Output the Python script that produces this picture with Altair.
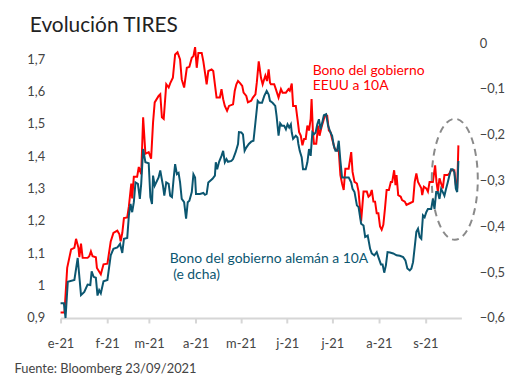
import altair as alt
import pandas as pd

# ---- data (day offset from 2021-01-01, yield %) ----
us_days = [0, 2.6, 4.4, 7.0, 9.2, 10.3, 11.9, 12.5, 13.6, 14.7, 18.0, 19.1, 20.2, 21.3, 23.5, 24.2, 26.8, 28.6,
           31.2, 33.4, 35.2, 37.8, 39.2, 40.0, 41.1, 42.2, 44.4, 45.5, 47.1, 47.7, 48.8, 51.0, 52.1, 53.7, 55.0,
           56.5, 58.7, 60.3, 61.6, 62.7, 65.3, 66.4, 67.5, 68.7, 70.4, 72.0, 73.0, 74.8, 76.3, 77.9, 79.6, 80.7,
           82.3, 84.1, 85.8, 87.4, 88.5, 89.6, 90.7, 91.8, 94.0, 95.1, 96.2, 97.3, 98.4, 100.6, 101.7, 102.8,
           103.9, 106.1, 107.2, 108.3, 109.4, 110.9, 112.2, 114.9, 116.0, 117.1, 118.2, 119.7, 121.0, 121.9,
           123.7, 124.8, 127.0, 128.1, 129.8, 130.7, 132.0, 133.5, 134.6, 136.4, 137.5, 138.6, 139.5, 140.1,
           142.3, 143.4, 145.2, 146.8, 147.9, 150.1, 151.8, 152.7, 154.0, 154.9, 156.7, 157.8, 158.9, 160.0,
           161.1, 162.2, 163.3, 164.4, 165.5, 166.6, 167.2, 168.1, 168.8, 170.3, 171.6, 172.5, 173.8, 175.4,
           176.5, 177.6, 178.7, 179.8, 180.9, 182.6, 184.2, 185.3, 186.4, 187.5, 188.6, 189.7, 191.9, 193.6,
           194.5, 195.8, 197.4, 198.5, 200.2, 201.8, 204.0, 205.1, 206.2, 207.3, 208.4, 209.5, 210.6, 211.7,
           212.8, 213.9, 215.0, 216.1, 217.2, 218.7, 220.0, 220.9, 222.2, 223.1, 223.8, 224.9, 226.6, 227.5,
           229.3, 230.4, 232.6, 234.8, 235.9, 237.0, 238.1, 239.2, 240.3, 240.9, 242.0, 243.6, 244.7, 245.8,
           248.0, 249.5, 250.4, 251.3, 252.4, 253.5, 254.6, 255.7, 257.9, 259.0, 260.1, 262.3, 263.3, 264.2, 265.0]
us_vals = [0.917, 0.917, 1.055, 1.112, 1.117, 1.145, 1.117, 1.088, 1.130, 1.086, 1.086, 1.091, 1.106, 1.091, 1.088,
           1.055, 1.035, 1.066, 1.068, 1.137, 1.163, 1.170, 1.159, 1.137, 1.163, 1.209, 1.211, 1.245, 1.316, 1.270,
           1.337, 1.337, 1.367, 1.345, 1.521, 1.408, 1.413, 1.393, 1.505, 1.567, 1.587, 1.592, 1.521, 1.516, 1.623,
           1.613, 1.626, 1.643, 1.715, 1.722, 1.700, 1.638, 1.613, 1.674, 1.677, 1.705, 1.710, 1.738, 1.674, 1.720,
           1.720, 1.694, 1.659, 1.623, 1.664, 1.669, 1.664, 1.623, 1.582, 1.582, 1.608, 1.577, 1.556, 1.541, 1.556,
           1.561, 1.602, 1.623, 1.633, 1.626, 1.618, 1.597, 1.587, 1.567, 1.572, 1.582, 1.592, 1.628, 1.694, 1.643,
           1.623, 1.650, 1.633, 1.669, 1.628, 1.623, 1.623, 1.608, 1.582, 1.608, 1.597, 1.597, 1.608, 1.603, 1.625,
           1.556, 1.556, 1.516, 1.475, 1.464, 1.434, 1.454, 1.454, 1.495, 1.480, 1.516, 1.577, 1.475, 1.439, 1.439,
           1.495, 1.464, 1.490, 1.516, 1.528, 1.526, 1.480, 1.475, 1.454, 1.424, 1.418, 1.418, 1.342, 1.316, 1.296,
           1.362, 1.362, 1.413, 1.352, 1.321, 1.316, 1.291, 1.199, 1.291, 1.291, 1.275, 1.280, 1.296, 1.260, 1.260,
           1.224, 1.224, 1.183, 1.173, 1.188, 1.239, 1.296, 1.296, 1.321, 1.321, 1.357, 1.311, 1.342, 1.280, 1.275,
           1.265, 1.260, 1.250, 1.255, 1.260, 1.321, 1.347, 1.321, 1.311, 1.301, 1.280, 1.306, 1.301, 1.291, 1.321,
           1.321, 1.372, 1.321, 1.291, 1.332, 1.316, 1.301, 1.342, 1.342, 1.347, 1.357, 1.357, 1.311, 1.301, 1.434]

de_days = [0, 2.2, 3.3, 4.8, 9.2, 11.4, 13.6, 15.8, 18.0, 19.8, 20.7, 22.0, 23.5, 24.6, 25.7, 26.8, 28.6, 31.2,
           33.4, 35.2, 37.8, 39.6, 41.1, 42.2, 44.4, 45.5, 46.6, 47.7, 48.8, 49.9, 51.5, 52.8, 53.7, 55.0, 56.5,
           58.7, 59.8, 60.9, 61.6, 62.7, 65.3, 66.4, 68.2, 69.1, 70.4, 72.0, 73.0, 74.2, 75.3, 76.3, 77.5, 78.6,
           79.6, 80.7, 82.3, 83.6, 84.7, 85.8, 87.4, 88.5, 89.6, 90.2, 92.8, 95.1, 96.2, 97.3, 98.4, 101.2, 102.8,
           103.4, 104.3, 105.6, 107.2, 108.3, 109.4, 110.5, 111.5, 113.8, 114.9, 116.6, 118.2, 118.8, 120.4, 121.5,
           122.6, 123.7, 125.4, 127.0, 128.5, 129.8, 131.3, 132.4, 134.2, 135.7, 137.3, 138.6, 139.5, 141.2,
           143.0, 143.9, 145.2, 146.3, 147.4, 148.9, 150.1, 151.2, 152.3, 153.4, 154.0, 154.9, 156.7, 157.8,
           158.4, 159.3, 160.6, 161.5, 163.3, 164.4, 165.5, 166.6, 167.7, 168.8, 169.9, 171.0, 172.1, 173.2,
           174.3, 175.4, 176.9, 178.2, 179.8, 180.9, 182.0, 183.1, 184.2, 185.3, 186.4, 187.5, 189.7, 191.9,
           193.6, 194.5, 195.8, 197.4, 198.5, 200.2, 201.8, 202.9, 204.6, 206.2, 207.3, 209.0, 210.6, 211.7,
           213.4, 214.5, 215.6, 216.7, 217.8, 219.4, 221.6, 223.8, 226.0, 228.2, 229.7, 231.0, 232.6, 233.7,
           234.8, 235.9, 237.0, 238.1, 239.2, 240.3, 241.4, 242.5, 243.6, 244.7, 246.9, 248.0, 249.1, 250.2,
           251.3, 252.4, 253.5, 254.6, 255.7, 256.8, 257.9, 259.0, 260.1, 261.2, 262.3, 263.3, 264.2, 265.0]
de_vals = [-0.568, -0.568, -0.600, -0.521, -0.517, -0.469, -0.550, -0.543, -0.527, -0.528, -0.498, -0.510, -0.512,
           -0.551, -0.539, -0.546, -0.520, -0.517, -0.463, -0.449, -0.446, -0.438, -0.458, -0.427, -0.425, -0.376,
           -0.351, -0.369, -0.347, -0.304, -0.307, -0.340, -0.307, -0.231, -0.260, -0.262, -0.336, -0.351, -0.289,
           -0.311, -0.293, -0.278, -0.311, -0.333, -0.304, -0.307, -0.333, -0.336, -0.296, -0.264, -0.286, -0.283,
           -0.304, -0.340, -0.347, -0.383, -0.347, -0.344, -0.325, -0.286, -0.293, -0.329, -0.329, -0.327, -0.331,
           -0.329, -0.304, -0.296, -0.289, -0.260, -0.275, -0.259, -0.246, -0.235, -0.260, -0.253, -0.259, -0.257,
           -0.253, -0.238, -0.220, -0.194, -0.195, -0.199, -0.235, -0.228, -0.220, -0.215, -0.213, -0.173, -0.126,
           -0.130, -0.130, -0.115, -0.104, -0.112, -0.126, -0.130, -0.137, -0.159, -0.202, -0.175, -0.180, -0.180,
           -0.188, -0.177, -0.184, -0.177, -0.195, -0.209, -0.202, -0.206, -0.220, -0.235, -0.249, -0.275, -0.275,
           -0.260, -0.231, -0.246, -0.195, -0.199, -0.195, -0.177, -0.166, -0.188, -0.173, -0.157, -0.155, -0.180,
           -0.195, -0.202, -0.224, -0.235, -0.235, -0.213, -0.257, -0.293, -0.293, -0.293, -0.304, -0.318, -0.325,
           -0.354, -0.358, -0.394, -0.398, -0.423, -0.420, -0.449, -0.459, -0.463, -0.456, -0.467, -0.483, -0.483,
           -0.501, -0.485, -0.456, -0.457, -0.459, -0.463, -0.464, -0.467, -0.474, -0.492, -0.496, -0.492, -0.478,
           -0.445, -0.412, -0.405, -0.423, -0.427, -0.376, -0.380, -0.369, -0.362, -0.362, -0.340, -0.362, -0.325,
           -0.325, -0.340, -0.318, -0.325, -0.333, -0.318, -0.304, -0.289, -0.275, -0.275, -0.282, -0.318, -0.325,
           -0.257]

left_ticks = [0.9, 1.0, 1.1, 1.2, 1.3, 1.4, 1.5, 1.6, 1.7]
right_ticks = [-0.6, -0.5, -0.4, -0.3, -0.2, -0.1, 0.0]
month_abbr = ['e', 'f', 'm', 'a', 'm', 'j', 'j', 'a', 's', 'o', 'n', 'd']

label_days = [167.9, 167.9, 72.7, 75.0]
label_vals = [1.665, 1.617, 1.083, 1.033]
label_text = ["Bono del gobierno", "EEUU a 10A", "Bono del gobierno alemán a 10A", "(e dcha)"]
label_series = ["us", "us", "de", "de"]

ellipse_day = [262.6]
ellipse_val = [1.329]

RED = "#ff0000"
TEAL = "#0b5670"
FONT = "Lato"

base_date = pd.Timestamp("2021-01-01")
def to_dates(days):
    return [base_date + pd.Timedelta(days=d) for d in days]

us_df = pd.DataFrame({"date": to_dates(us_days), "value": us_vals})
de_df = pd.DataFrame({"date": to_dates(de_days), "value": de_vals})
lab_df = pd.DataFrame({"date": to_dates(label_days), "value": label_vals,
                       "text": label_text, "series": label_series})
ell_df = pd.DataFrame({"date": to_dates(ellipse_day), "value": ellipse_val})

x_dom = [alt.DateTime(year=2021, month=1, date=1), alt.DateTime(year=2021, month=9, date=25)]
month_js = "[" + ",".join("'" + m + "'" for m in month_abbr) + "]"

x_enc = alt.X(
    "date:T",
    scale=alt.Scale(domain=x_dom),
    axis=alt.Axis(
        tickCount={"interval": "month", "step": 1},
        labelExpr=month_js + "[month(datum.value)] + '-21'",
        grid=False, domainColor="#d6d6d6", domainWidth=2,
        tickColor="#d6d6d6", tickWidth=2, tickSize=5, labelPadding=15,
        labelFontSize=13, labelColor="#444444", labelFont=FONT, labelFlush=False,
        labelOverlap=False,
        title="Fuente: Bloomberg 23/09/2021", titleX=-47, titleY=55,
        titleAlign="left", titleAnchor="start", titleBaseline="alphabetic",
        titleFontSize=13, titleFontWeight="normal", titleColor="#444444", titleFont=FONT,
    ),
)

label_expr = "replace(format(datum.value, '.1~f'), '.', ',')"

y_left = alt.Y(
    "value:Q",
    scale=alt.Scale(domain=[0.9, 1.75], nice=False, zero=False),
    axis=alt.Axis(values=left_ticks, labelExpr=label_expr, domain=False, ticks=False, grid=False,
                  labelOverlap=False, labelPadding=16, labelFontSize=13,
                  labelColor="#444444", labelFont=FONT, title=None),
)
y_right = alt.Y(
    "value:Q",
    scale=alt.Scale(domain=[-0.6, 0.0], nice=False, zero=False),
    axis=alt.Axis(orient="right", values=right_ticks, labelExpr=label_expr, domain=False, ticks=False,
                  grid=False, labelOverlap=False, labelPadding=18, labelFontSize=13,
                  labelColor="#444444", labelFont=FONT, title=None),
)

us_line = alt.Chart(us_df).mark_line(color=RED, strokeWidth=2).encode(x=x_enc, y=y_left)

labels = alt.Chart(lab_df).mark_text(align="left", baseline="middle", fontSize=14, font=FONT).encode(
    x=x_enc, y=y_left, text="text:N",
    color=alt.Color("series:N", scale=alt.Scale(domain=["us", "de"], range=[RED, TEAL]), legend=None),
)

ellipse_path = "M -0.38 0 A 0.38 1 0 1 1 0.38 0 A 0.38 1 0 1 1 -0.38 0"
ellipse = alt.Chart(ell_df).mark_point(
    shape=ellipse_path, size=14884, filled=False, stroke="#8a8a8a", strokeWidth=2,
    strokeDash=[7, 5], opacity=1,
).encode(x=x_enc, y=y_left)

left_layer = alt.layer(us_line, labels, ellipse)

de_line = alt.Chart(de_df).mark_line(color=TEAL, strokeWidth=2).encode(x=x_enc, y=y_right)

chart = alt.layer(left_layer, de_line).resolve_scale(y="independent").properties(
    width=404, height=277,
    autosize="none",
    padding={"left": 53, "top": 34, "right": 50, "bottom": 62},
    title=alt.TitleParams("Evolución TIRES", anchor="start", frame="group", fontSize=21,
                          fontWeight="normal", color="#222222", font=FONT, dx=-31, offset=1),
).configure_view(stroke="transparent")

chart.save("out.html", embed_options={"renderer": "svg", "actions": False})
